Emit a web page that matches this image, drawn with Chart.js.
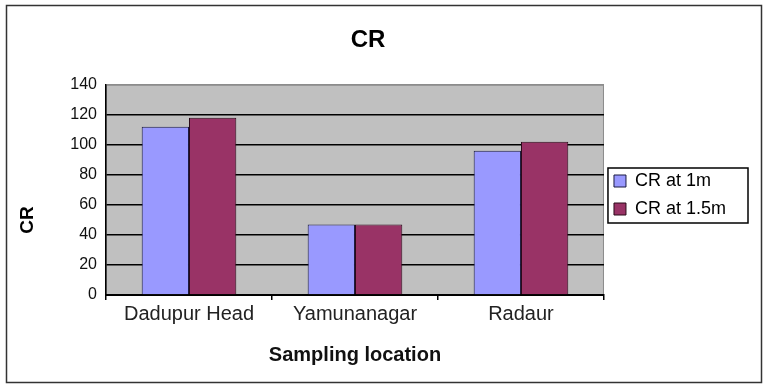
<!DOCTYPE html>
<html>
<head>
<meta charset="utf-8">
<script src="https://cdn.jsdelivr.net/npm/chart.js@4/dist/chart.umd.min.js"></script>
<style>
  body { margin: 0; background: #fff; }
  #wrap { width: 768px; height: 390px; position: relative; }
</style>
</head>
<body>
<div id="wrap"><canvas id="crChart"></canvas></div>
<script>
const categories = ["Dadupur Head", "Yamunanagar", "Radaur"];
const seriesLabels = ["CR at 1m", "CR at 1.5m"];
const crAt1m = [112, 47, 96];
const crAt15m = [118, 47, 102];
const yTicks = [0, 20, 40, 60, 80, 100, 120, 140];
const chartTitle = "CR";
const yTitle = "CR";
const xTitle = "Sampling location";

const FONT = "'Liberation Sans', Arial, sans-serif";

// grey plot background, grey top/right edge, outer frame, y title, legend frame
const decorations = {
  id: "decorations",
  beforeDraw(chart) {
    const { ctx, chartArea: a } = chart;
    ctx.save();
    ctx.fillStyle = "#c0c0c0";
    ctx.fillRect(a.left, a.top, a.right - a.left, a.bottom - a.top);
    ctx.strokeStyle = "#8c8c8c";
    ctx.lineWidth = 1;
    ctx.strokeRect(a.left + 0.5, a.top + 0.5, a.right - a.left - 1, a.bottom - a.top);
    ctx.restore();
  },
  afterDraw(chart) {
    const { ctx } = chart;
    ctx.save();
    ctx.strokeStyle = "#333";
    ctx.lineWidth = 1.5;
    ctx.strokeRect(6.5, 5.5, 755, 377);

    ctx.translate(28, 220);
    ctx.rotate(-Math.PI / 2);
    ctx.font = "bold 19px " + FONT;
    ctx.fillStyle = "#000";
    ctx.textAlign = "center";
    ctx.textBaseline = "middle";
    ctx.fillText(yTitle, 0, 0);
    ctx.restore();

    const lg = chart.legend;
    if (lg && lg.legendHitBoxes.length) {
      const boxes = lg.legendHitBoxes;
      const top = boxes[0].top - 4;
      const last = boxes[boxes.length - 1];
      const bottom = last.top + last.height + 5;
      ctx.save();
      ctx.strokeStyle = "#000";
      ctx.lineWidth = 1.5;
      ctx.strokeRect(lg.left + 4, top, lg.width + 8, bottom - top);
      ctx.restore();
    }
  }
};

new Chart(document.getElementById("crChart"), {
  type: "bar",
  data: {
    labels: categories,
    datasets: [
      {
        label: seriesLabels[0],
        data: crAt1m,
        backgroundColor: "#9999ff",
        borderColor: "#1a1a40",
        borderWidth: 1,
      },
      {
        label: seriesLabels[1],
        data: crAt15m,
        backgroundColor: "#993366",
        borderColor: "#2a0a18",
        borderWidth: 1,
      },
    ],
  },
  options: {
    responsive: true,
    maintainAspectRatio: false,
    animation: false,
    layout: { padding: { left: 0, right: 32, top: 0, bottom: 0 } },
    datasets: {
      bar: { categoryPercentage: 0.57, barPercentage: 1.0 },
    },
    scales: {
      x: {
        afterFit(scale) { scale.height = 95; },
        grid: {
          display: true,
          drawOnChartArea: false,
          offset: true,
          tickLength: 5,
          color: "#000",
          lineWidth: 1.5,
        },
        border: { display: true, color: "#000", width: 2 },
        ticks: {
          padding: 2,
          color: "#222",
          font: { family: FONT, size: 20 },
        },
        title: {
          display: true,
          text: xTitle,
          color: "#111",
          font: { family: FONT, size: 20, weight: "bold" },
          padding: { top: 0, bottom: 23 },
        },
      },
      y: {
        min: 0,
        max: 140,
        afterFit(scale) { scale.width = 106; },
        afterBuildTicks(scale) {
          scale.ticks = yTicks.map(v => ({ value: v }));
        },
        grid: {
          drawTicks: false,
          color: c => (c.tick && c.tick.value === yTicks[yTicks.length - 1] ? "#8c8c8c" : "#000"),
          lineWidth: c => (c.tick && c.tick.value === yTicks[yTicks.length - 1] ? 1 : 1.5),
        },
        border: { display: true, color: "#000", width: 1.5 },
        ticks: {
          padding: 9,
          color: "#111",
          font: { family: FONT, size: 16 },
        },
      },
    },
    plugins: {
      title: {
        display: true,
        text: chartTitle,
        color: "#000",
        font: { family: FONT, size: 24, weight: "bold" },
        padding: { top: 26, bottom: 30 },
      },
      legend: {
        position: "right",
        labels: {
          boxWidth: 12,
          boxHeight: 12,
          padding: 10,
          color: "#000",
          font: { family: FONT, size: 18 },
        },
      },
      tooltip: { enabled: false },
    },
  },
  plugins: [decorations],
});
</script>
</body>
</html>
